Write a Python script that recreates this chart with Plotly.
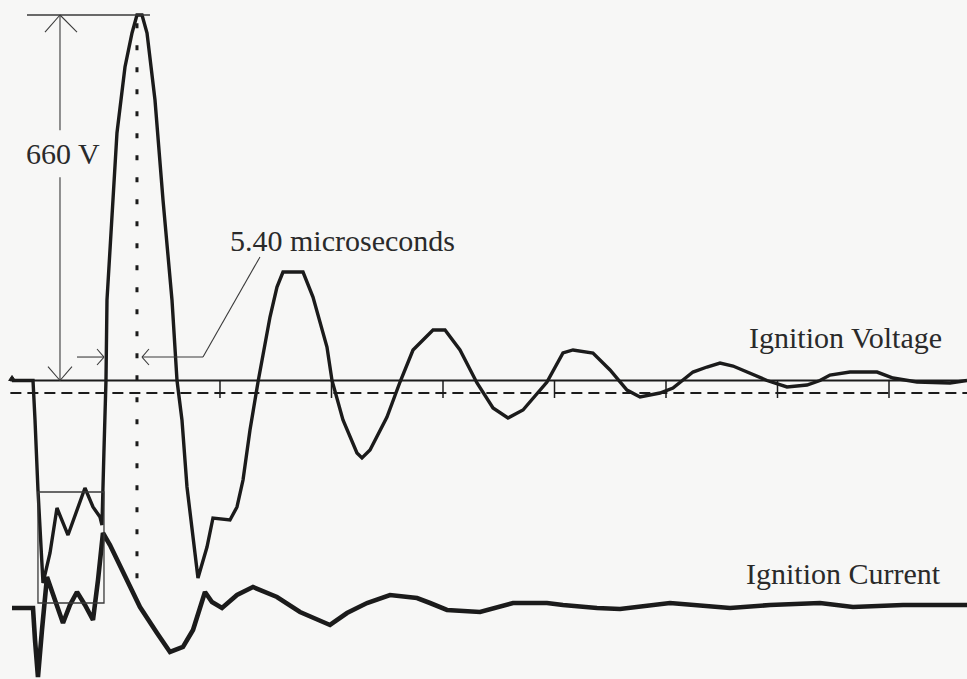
import plotly.graph_objects as go

# ---- Ignition voltage trace (time in microseconds, volts) ----
volt_t = [-17.31, -13.54, -13.18, -12.65, -11.75, -10.49, -9.24, -7.26, -4.22, -2.78, -1.52, -1.17,
          -0.81, -0.45, -0.27, 0.81, 1.52, 2.96, 4.22, 5.11, 6.01, 6.91, 8.34, 9.78, 11.39, 12.29,
          13.18, 14.08, 15.16, 16.05, 17.67, 18.74, 21.79, 23.05, 24.13, 25.38, 26.82, 28.97, 30.22,
          31.30, 34.89, 36.68, 39.19, 40.09, 42.06, 44.57, 45.47, 46.91, 49.95, 52.29, 54.62, 58.21,
          60.36, 63.05, 66.10, 68.97, 71.66, 74.35, 78.65, 81.52, 83.32, 86.90, 89.96, 93.00, 95.34,
          98.92, 101.25, 104.84, 107.35, 109.69, 112.02, 115.60, 118.12, 121.70, 125.29, 127.62,
          129.41, 133.00, 137.85, 140.72, 145.02, 150.94, 153.99]
volt_v = [0, 0, -71.3, -197.7, -365.7, -311.5, -230.2, -279.0, -194.1, -228.4, -246.5, -260.9,
          -125.5, 0, 145.4, 325.9, 446.9, 566.1, 627.5, 660.0, 660.0, 627.5, 506.5, 325.9, 145.4, 0,
          -71.3, -192.3, -288.0, -356.6, -300.6, -248.3, -251.9, -228.4, -179.7, -89.4, -2.7, 114.7,
          168.8, 195.9, 195.9, 150.8, 60.5, 0, -71.3, -130.9, -139.9, -125.5, -65.9, -2.7, 55.1, 91.2,
          91.2, 55.1, -4.5, -49.7, -67.7, -53.3, -2.7, 49.7, 55.1, 49.7, 19.0, -17.2, -29.8,
          -22.6, -13.5, 15.3, 24.4, 31.6, 26.2, 9.9, 0, -11.7, -8.1, 0,
          9.9, 15.3, 15.3, 4.5, -2.7, -4.5, 0]

# ---- Ignition current trace (time in microseconds, amperes) ----
curr_t = [-17.31, -13.54, -13.18, -12.65, -11.93, -11.03, -9.60, -8.16, -6.91, -5.65, -4.22, -2.78,
          -1.88, -0.99, 0.27, 2.96, 5.65, 8.70, 11.03, 13.36, 15.16, 17.31, 18.56, 20.36, 23.05,
          25.92, 30.22, 34.35, 36.68, 39.73, 42.78, 46.37, 50.49, 55.34, 57.67, 60.72, 66.64, 69.69,
          72.56, 78.65, 81.52, 87.62, 91.75, 100.72, 111.48, 118.65, 127.62, 133.54, 142.51, 153.99]
curr_i = [-0.08, -0.08, -1.36, -2.84, -0.96, 1.16, 0.24, -0.68, 0.04, 0.56, 0.04, -0.56,
          1.04, 2.92, 2.44, 1.24, -0.04, -1.08, -1.84, -1.64, -0.96, 0.56, 0.16, -0.08, 0.44,
          0.76, 0.36, -0.24, -0.48, -0.76, -0.28, 0.12, 0.44, 0.32, 0.12, -0.16, -0.24, -0.04,
          0.12, 0.12, 0.04, -0.08, -0.12, 0.12, -0.08, 0.04, 0.12, -0.04, 0.04, 0.04]

# ---- annotation values ----
peak_voltage = 660.0          # V
rise_time = 5.40              # microseconds
trace_offset = -22.6          # V, dashed reference level
division_ticks = [20, 40, 60, 80, 100, 120, 140]   # microseconds

INK = "#1b1b1b"
THIN = "#3a3a3a"
FONT = "Liberation Serif"

fig = go.Figure()
fig.add_trace(go.Scatter(x=volt_t, y=volt_v, mode="lines", name="Ignition Voltage",
                         line=dict(color=INK, width=3.4), showlegend=False, hoverinfo="skip"))
fig.add_trace(go.Scatter(x=curr_t, y=curr_i, mode="lines", name="Ignition Current", yaxis="y2",
                         line=dict(color=INK, width=4.6), showlegend=False, hoverinfo="skip"))

shapes = []
def seg(x0, y0, x1, y1, w=1.3, color=THIN, dash="solid", yref="y"):
    shapes.append(dict(type="line", xref="x", yref=yref, x0=x0, y0=y0, x1=x1, y1=y1,
                       line=dict(color=color, width=w, dash=dash)))

# baseline and dashed offset line
seg(-17.6, 0, 154, 0, w=2.0, color=INK)
seg(-17.6, trace_offset, 154, trace_offset, w=2.0, color=INK, dash="11px,6px")
for tk in division_ticks:
    seg(tk, 0, tk, -31.6, w=1.5, color=INK)
# small ground marker at the start of the baseline
shapes.append(dict(type="path", xref="x", yref="y",
                   path="M -17.9,0 L -16.7,0 L -17.3,9 Z",
                   fillcolor=INK, line=dict(color=INK, width=1)))

# dotted line through the peak
seg(5.11, 645, 5.11, -378, w=3, color=INK, dash="5px,17px")

# 660 V dimension
seg(-14.62, peak_voltage, 7.44, peak_voltage, w=1.5)
seg(-8.70, peak_voltage, -8.70, 452, w=1.1)
seg(-8.70, 367, -8.70, 0, w=1.1)
seg(-11.39, 629, -8.70, peak_voltage, w=1.1)
seg(-5.65, 629, -8.70, peak_voltage, w=1.1)
seg(-10.85, 25, -8.70, 0, w=1.1)
seg(-6.55, 25, -8.70, 0, w=1.1)

# 5.40 microseconds dimension arrows
seg(-5.65, 42.4, -0.81, 42.4, w=1.1)
seg(-2.06, 56.9, -0.81, 42.4, w=1.1)
seg(-2.06, 28.0, -0.81, 42.4, w=1.1)
seg(6.01, 42.4, 16.95, 42.4, w=1.1)
seg(7.26, 56.9, 6.01, 42.4, w=1.1)
seg(7.26, 28.0, 6.01, 42.4, w=1.1)
seg(16.95, 42.4, 27.17, 223.0, w=1.1)

# measurement box
shapes.append(dict(type="rect", xref="x", yref="y", x0=-12.65, x1=-0.81, y0=-401.8, y1=-201.3,
                   line=dict(color=THIN, width=1.3)))

annotations = [
    dict(x=-8.2, y=410.8, text="660 V", showarrow=False, xanchor="center", yanchor="middle"),
    dict(x=21.4, y=253.7, text=f"{rise_time:.2f} microseconds", showarrow=False, xanchor="left",
         yanchor="middle"),
    dict(x=114.5, y=78.5, text="Ignition Voltage", showarrow=False, xanchor="left", yanchor="middle"),
    dict(x=114.0, y=1.32, yref="y2", text="Ignition Current", showarrow=False, xanchor="left",
         yanchor="middle"),
]
for a in annotations:
    a.setdefault("xref", "x")
    a.setdefault("yref", "y")
    a["font"] = dict(family=FONT, size=30, color="#2a2a2a")

fig.update_layout(
    width=967, height=679,
    margin=dict(l=0, r=0, t=0, b=0),
    paper_bgcolor="#f7f7f6", plot_bgcolor="#f7f7f6",
    xaxis=dict(range=[-19.46, 153.99], visible=False, fixedrange=True),
    yaxis=dict(range=[-539.0, 687.1], visible=False, fixedrange=True),
    yaxis2=dict(range=[-2.92, 24.24], visible=False, overlaying="y", fixedrange=True),
    shapes=shapes, annotations=annotations, showlegend=False,
)
fig.write_html("out.html", config={"displayModeBar": False},
               post_script="document.body.style.margin='0';document.body.style.background='#f7f7f6';")
